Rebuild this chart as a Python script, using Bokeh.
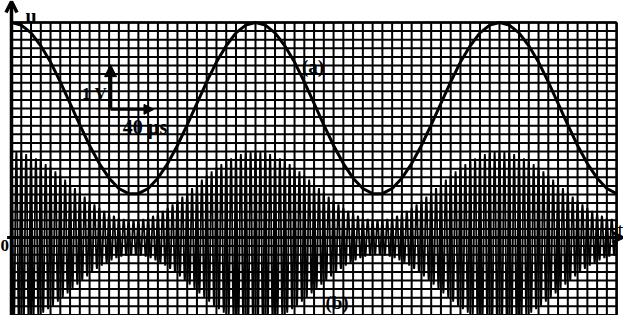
import numpy as np
from bokeh.plotting import figure
from bokeh.models import Range1d, Arrow, OpenHead, NormalHead, Label
from bokeh.embed import file_html
from bokeh.resources import INLINE

# ---- data (in graticule divisions) ----
grid_cols = list(range(0, 63))      # vertical graticule lines (time divisions)
grid_rows = list(range(-9, 26))     # horizontal graticule lines (voltage divisions)

# curve (a): value read at every time division (divisions above the t axis)
t_a = list(range(0, 63))
u_a = [25.0, 24.7, 23.8, 22.3, 20.4, 18.1, 15.6, 13.1, 10.7, 8.6, 6.9, 5.7, 5.1,
       5.1, 5.7, 6.9, 8.6, 10.7, 13.1, 15.6, 18.1, 20.4, 22.3, 23.8, 24.7,
       25.0, 24.7, 23.8, 22.3, 20.4, 18.1, 15.6, 13.1, 10.7, 8.6, 6.9, 5.7, 5.1,
       5.1, 5.7, 6.9, 8.6, 10.7, 13.1, 15.6, 18.1, 20.4, 22.3, 23.8, 24.7,
       25.0, 24.7, 23.8, 22.3, 20.4, 18.1, 15.6, 13.1, 10.7, 8.6, 6.9, 5.7, 5.1]

# curve (b): amplitude-modulated signal, envelope follows (a)
am_gain = 0.4              # envelope / u_a
carrier_period = 0.5       # divisions

labels_text = {"u": "u", "t": "t", "zero": "0", "a": "(a)", "b": "(b)",
               "volt": "1 V", "time": "40 µs"}

# ---- figure ----
p = figure(width=623, height=315, output_backend="svg", toolbar_location=None,
           x_range=Range1d(-1.127, 62.705), y_range=Range1d(-9.07, 27.56),
           x_axis_location=None, y_axis_location=None, min_border=0)
p.grid.visible = False
p.outline_line_color = None
p.background_fill_color = "white"
p.border_fill_color = "white"

INK = "#000000"
# graticule
p.segment(x0=grid_cols, y0=[-9.6] * len(grid_cols), x1=grid_cols, y1=[25] * len(grid_cols),
          line_color=INK, line_width=2.0)
p.segment(x0=[0] * len(grid_rows), y0=grid_rows, x1=[62] * len(grid_rows), y1=grid_rows,
          line_color=INK, line_width=2.0)
# borders
p.segment(x0=[0, 62], y0=[25, -9.6], x1=[62, 62], y1=[25, 25], line_color=INK, line_width=2.4)

# curve (b)
t_b = np.linspace(0, 62, 62 * 40 + 1)
env = am_gain * np.interp(t_b, t_a, u_a)
u_b = env * np.cos(2 * np.pi * t_b / carrier_period)
p.line(t_b, u_b, line_color="black", line_width=1.8)

# curve (a)
p.line(t_a, u_a, line_color="black", line_width=3.0)

# axes with arrows
p.add_layout(Arrow(end=OpenHead(size=11, line_width=3.5, line_color="black"),
                   x_start=0, y_start=-9.6, x_end=0, y_end=27.45,
                   line_width=3.5, line_color="black"))
p.add_layout(Arrow(end=OpenHead(size=10, line_width=3, line_color="black"),
                   x_start=-0.45, y_start=0, x_end=62.6, y_end=0,
                   line_width=3, line_color="black"))

# scale arrows
p.add_layout(Arrow(end=NormalHead(size=12, fill_color="black", line_color="black"),
                   x_start=10.15, y_start=14.9, x_end=10.15, y_end=20.1,
                   line_width=3.5, line_color="black"))
p.add_layout(Arrow(end=NormalHead(size=10, fill_color="black", line_color="black"),
                   x_start=10.15, y_start=14.9, x_end=14.6, y_end=14.9,
                   line_width=3.0, line_color="black"))

FONT = "Liberation Serif"
def lab(x, y, key, size, align="center", baseline="middle", style="bold"):
    p.add_layout(Label(x=x, y=y, text=labels_text[key], text_font=FONT,
                       text_font_size=size, text_font_style=style,
                       text_align=align, text_baseline=baseline, text_color="black",
                       background_fill_color=None))

lab(1.43, 25.81, "u", "20px", align="left", baseline="alphabetic")
lab(62.70, 0.93, "t", "21px", align="right", baseline="alphabetic", style="normal")
lab(-1.12, -0.96, "zero", "17px", align="left", baseline="alphabetic")
lab(30.89, 19.94, "a", "19px")
lab(33.35, -7.56, "b", "19px")
lab(8.5, 16.74, "volt", "17px")
lab(13.68, 12.85, "time", "20px")

open("out.html", "w").write(file_html(p, INLINE))
